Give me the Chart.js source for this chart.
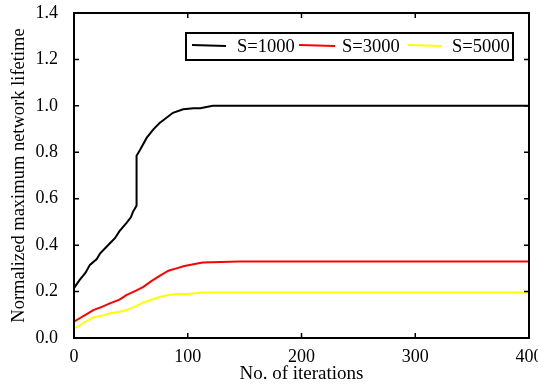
<!DOCTYPE html>
<html>
<head>
<meta charset="utf-8">
<script src="https://cdn.jsdelivr.net/npm/chart.js@4/dist/chart.umd.min.js"></script>
<style>
  html, body { margin: 0; padding: 0; background: #fff; }
  #wrap { width: 538px; height: 385px; }
</style>
</head>
<body>
<div id="wrap"><canvas id="myChart" width="538" height="385"></canvas></div>
<script>
// values
const xTicks = [0, 100, 200, 300, 400];
const yTicks = [0, 0.2, 0.4, 0.6, 0.8, 1.0, 1.2, 1.4];

const itS1000 = [0, 5, 10, 14, 20, 23, 28, 32, 36, 40, 46, 50, 52, 55, 55, 58, 64, 70, 75, 79, 87, 96, 105, 111, 122, 400];
const valS1000 = [0.215, 0.25, 0.28, 0.315, 0.34, 0.365, 0.39, 0.41, 0.43, 0.46, 0.495, 0.52, 0.545, 0.57, 0.785, 0.81, 0.863, 0.90, 0.925, 0.94, 0.97, 0.985, 0.99, 0.99, 1.0, 1.0];

const itS3000 = [0, 5, 10, 17, 25, 32, 40, 46, 55, 61, 68, 76, 83, 90, 97, 105, 113, 145, 400];
const valS3000 = [0.07, 0.085, 0.10, 0.12, 0.135, 0.15, 0.165, 0.185, 0.205, 0.22, 0.245, 0.27, 0.29, 0.30, 0.31, 0.318, 0.325, 0.33, 0.33];

const itS5000 = [0, 5, 10, 17, 25, 32, 40, 46, 55, 61, 68, 76, 83, 90, 100, 113, 400];
const valS5000 = [0.04, 0.055, 0.07, 0.089, 0.097, 0.107, 0.113, 0.12, 0.138, 0.153, 0.165, 0.178, 0.185, 0.19, 0.19, 0.196, 0.196];

const serif = "'Liberation Serif', 'DejaVu Serif', serif";

function pts(xs, ys) {
    return xs.map((x, i) => ({ x: x, y: ys[i] }));
}

// frame + inward ticks on all four sides, and the boxed legend
const framePlugin = {
    id: "frame",
    afterDraw(chart) {
        const ctx = chart.ctx;
        const a = chart.chartArea;
        const xs = chart.scales.x, ys = chart.scales.y;
        ctx.save();
        ctx.strokeStyle = "#000";
        ctx.lineWidth = 2;
        ctx.strokeRect(a.left, a.top, a.right - a.left, a.bottom - a.top);
        ctx.lineWidth = 1.5;
        ctx.beginPath();
        xTicks.forEach(v => {
            const px = xs.getPixelForValue(v);
            ctx.moveTo(px, a.bottom); ctx.lineTo(px, a.bottom - 5);
            ctx.moveTo(px, a.top); ctx.lineTo(px, a.top + 5);
        });
        yTicks.forEach(v => {
            const py = ys.getPixelForValue(v);
            ctx.moveTo(a.left, py); ctx.lineTo(a.left + 5, py);
            ctx.moveTo(a.right, py); ctx.lineTo(a.right - 5, py);
        });
        ctx.stroke();

        // legend box
        ctx.lineWidth = 2;
        ctx.strokeRect(186, 33, 327, 27);
        ctx.font = "18.5px " + serif;
        ctx.textBaseline = "middle";
        ctx.fillStyle = "#000";
        const slots = [[192, 226, 237], [299, 335, 342], [408, 441, 452]];
        chart.data.datasets.forEach((ds, i) => {
            const s = slots[i];
            ctx.strokeStyle = ds.borderColor;
            ctx.lineWidth = 2;
            ctx.beginPath();
            ctx.moveTo(s[0], 45); ctx.lineTo(s[1], 46);
            ctx.stroke();
            ctx.fillText(ds.label, s[2], 47);
        });
        ctx.restore();
    }
};

const ctx = document.querySelector("#myChart").getContext("2d");
new Chart(ctx, {
    type: "line",
    data: {
        datasets: [
            { label: "S=1000", data: pts(itS1000, valS1000), borderColor: "#000000" },
            { label: "S=3000", data: pts(itS3000, valS3000), borderColor: "#ff0000" },
            { label: "S=5000", data: pts(itS5000, valS5000), borderColor: "#ffff00" }
        ]
    },
    options: {
        responsive: false,
        animation: false,
        layout: { padding: { top: 13, right: 9, left: 8, bottom: 0 } },
        elements: {
            line: { borderWidth: 2, tension: 0, fill: false },
            point: { radius: 0 }
        },
        plugins: {
            legend: { display: false },
            tooltip: { enabled: false }
        },
        scales: {
            x: {
                type: "linear",
                min: 0,
                max: 400,
                afterFit: s => { s.height = 47; s.paddingLeft = 0; s.paddingRight = 0; },
                ticks: {
                    stepSize: 100,
                    color: "#000",
                    padding: 0,
                    maxRotation: 0,
                    font: { family: serif, size: 18 }
                },
                grid: { display: false },
                border: { display: false },
                title: {
                    display: true,
                    text: "No. of iterations",
                    color: "#000",
                    padding: { top: 0, bottom: 0 },
                    font: { family: serif, size: 19 }
                }
            },
            y: {
                min: 0,
                max: 1.4,
                afterFit: s => { s.width = 66; s.paddingTop = 0; s.paddingBottom = 0; },
                ticks: {
                    stepSize: 0.2,
                    color: "#000",
                    padding: 8,
                    font: { family: serif, size: 18 },
                    callback: v => v.toFixed(1)
                },
                grid: { display: false },
                border: { display: false },
                title: {
                    display: true,
                    text: "Normalized maximum network lifetime",
                    color: "#000",
                    padding: { top: 0, bottom: 0 },
                    font: { family: serif, size: 18.5 }
                }
            }
        }
    },
    plugins: [framePlugin]
});
</script>
</body>
</html>
